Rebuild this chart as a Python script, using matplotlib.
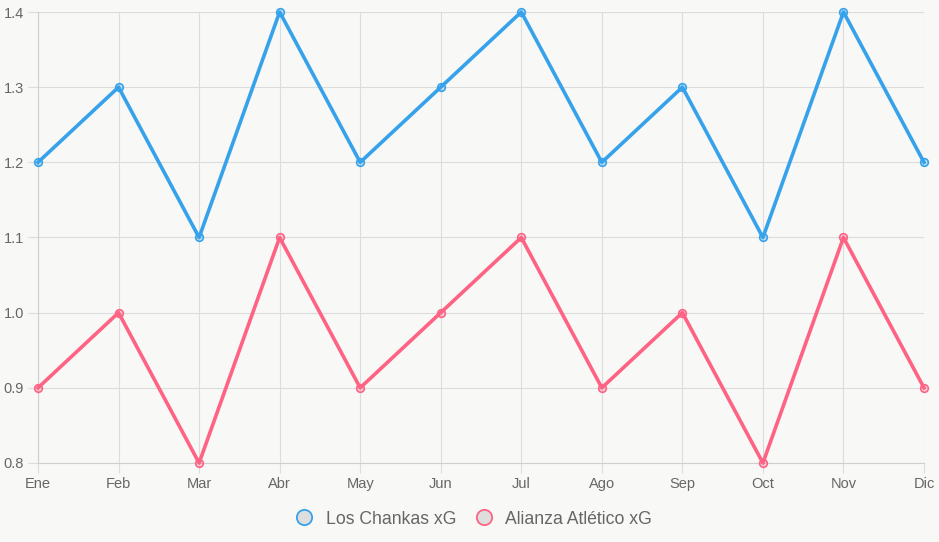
import matplotlib
matplotlib.use("Agg")
import matplotlib.pyplot as plt
from matplotlib.lines import Line2D

months = ["Ene", "Feb", "Mar", "Abr", "May", "Jun", "Jul", "Ago", "Sep", "Oct", "Nov", "Dic"]
chankas_xg = [1.2, 1.3, 1.1, 1.4, 1.2, 1.3, 1.4, 1.2, 1.3, 1.1, 1.4, 1.2]
alianza_xg = [0.9, 1.0, 0.8, 1.1, 0.9, 1.0, 1.1, 0.9, 1.0, 0.8, 1.1, 0.9]
yticks = [0.8, 0.9, 1.0, 1.1, 1.2, 1.3, 1.4]

blue = "#36A2EB"
pink = "#FF6384"
bg = "#f8f8f6"
txt = "#666666"
grid = "#dcdcdc"

plt.rcParams['font.family'] = ['Liberation Sans', 'DejaVu Sans']

fig = plt.figure(figsize=(9.39, 5.42), dpi=100, facecolor=bg)
ax = fig.add_axes([38/939, 1 - 463/542, 886/939, 451/542], facecolor=bg)

x = list(range(len(months)))
ax.plot(x, chankas_xg, color=blue, lw=2.6, marker='o', ms=5.5,
        mfc=(0.21, 0.64, 0.92, 0.25), mec=blue, mew=1.2, zorder=3, clip_on=False)
ax.plot(x, alianza_xg, color=pink, lw=2.6, marker='o', ms=5.5,
        mfc=(1.0, 0.39, 0.52, 0.25), mec=pink, mew=1.2, zorder=3, clip_on=False)

ax.set_xlim(0, len(months) - 1)
ax.set_ylim(0.8, 1.4)
ax.set_xticks(x)
ax.set_xticklabels(months)
ax.set_yticks(yticks)
ax.set_yticklabels(["%.1f" % v for v in yticks])
ax.grid(True, color=grid, lw=0.8)
ax.set_axisbelow(True)
for s in ['top', 'right']:
    ax.spines[s].set_visible(False)
for s in ['left', 'bottom']:
    ax.spines[s].set_color("#cfcfcf")
    ax.spines[s].set_linewidth(0.8)
ax.tick_params(colors=grid, labelcolor=txt, labelsize=10.5, length=7, width=0.8, pad=3)

handles = [
    Line2D([], [], ls='none', marker='o', ms=11, mfc="#dedede", mec=blue, mew=1.3),
    Line2D([], [], ls='none', marker='o', ms=11, mfc="#dedede", mec=pink, mew=1.3),
]
fig.legend(handles, ["Los Chankas xG", "Alianza Atlético xG"], loc='center',
           bbox_to_anchor=(0.5, 1 - 519/542), ncol=2, frameon=False,
           fontsize=12.7, labelcolor=txt, handletextpad=0.2, columnspacing=0.6)

fig.savefig("out.png", dpi=100, facecolor=bg)
